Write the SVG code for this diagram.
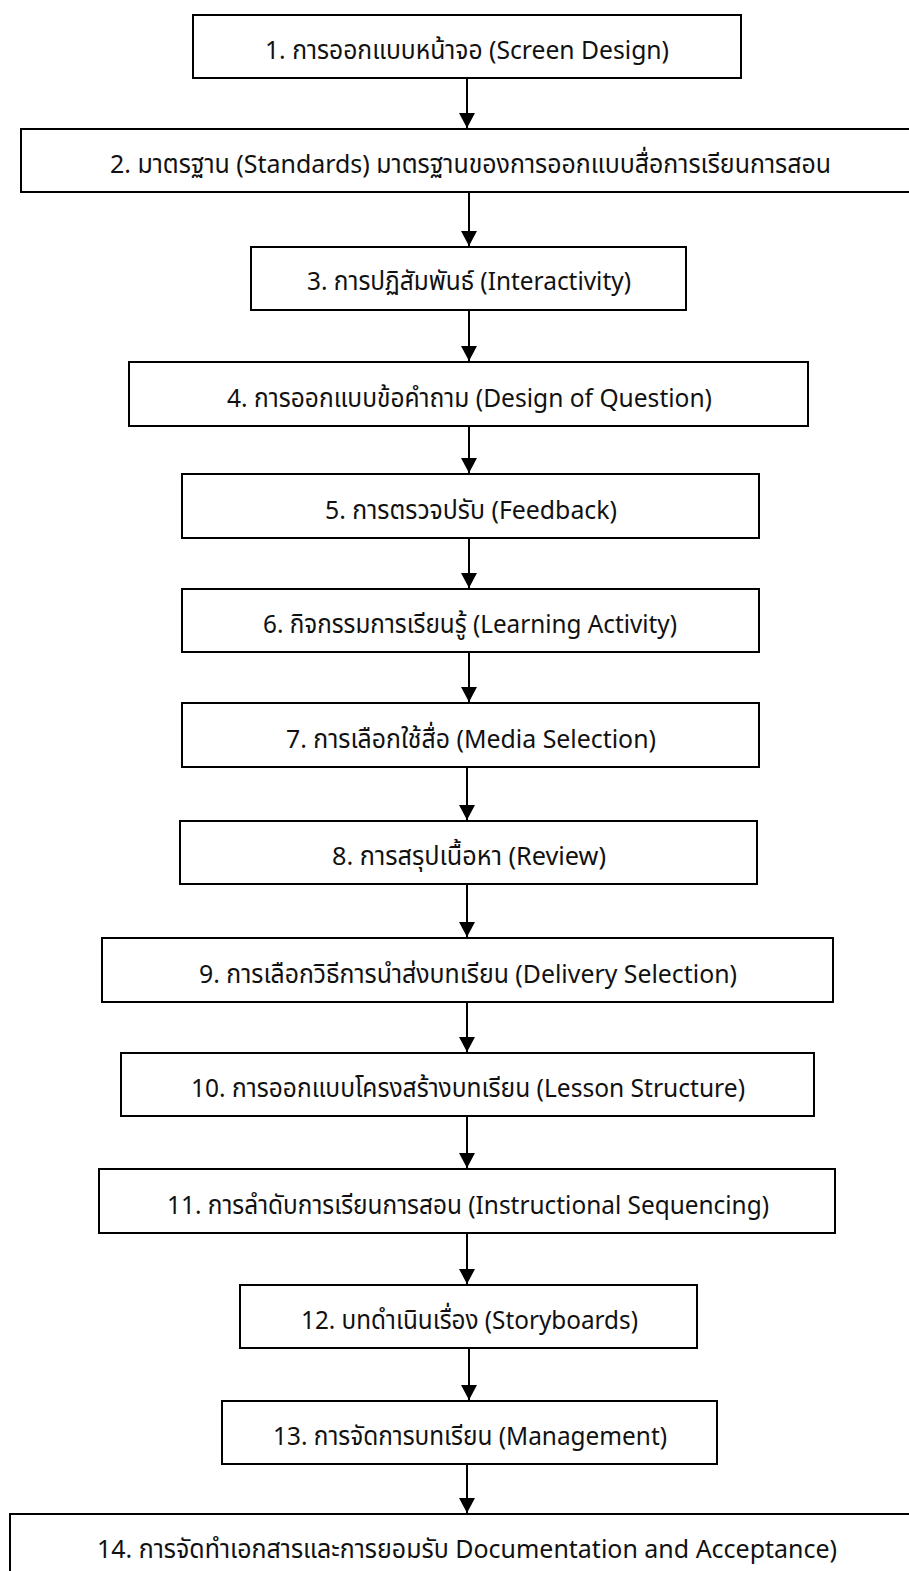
<svg xmlns="http://www.w3.org/2000/svg" width="909" height="1571" viewBox="0 0 909 1571">
  <style>
    .box rect { fill: #ffffff; stroke: #000000; stroke-width: 2; }
    .box text { font-family: "Noto Sans Thai", "Leelawadee UI", "Noto Sans", "DejaVu Sans", sans-serif; font-size: 26px; fill: #111111; }
    .link { stroke: #000000; stroke-width: 2; fill: none; marker-end: url(#head); }
  </style>
  <defs>
    <marker id="head" viewBox="0 0 15 16" refX="15" refY="8" markerWidth="15" markerHeight="16" markerUnits="userSpaceOnUse" orient="auto">
      <path d="M0,0 L15,8 L0,16 z" fill="#000000"/>
    </marker>
  </defs>
  <rect width="909" height="1571" fill="#ffffff"/>

  <!-- connectors -->
  <g id="connectors">
    <line class="link" x1="467" y1="78" x2="467" y2="128"/>
    <line class="link" x1="469" y1="192" x2="469" y2="246"/>
    <line class="link" x1="469" y1="310" x2="469" y2="361"/>
    <line class="link" x1="469" y1="426" x2="469" y2="473"/>
    <line class="link" x1="469" y1="538" x2="469" y2="588"/>
    <line class="link" x1="469" y1="652" x2="469" y2="702"/>
    <line class="link" x1="467" y1="767" x2="467" y2="820"/>
    <line class="link" x1="467" y1="884" x2="467" y2="937"/>
    <line class="link" x1="467" y1="1002" x2="467" y2="1052"/>
    <line class="link" x1="467" y1="1116" x2="467" y2="1168"/>
    <line class="link" x1="467" y1="1233" x2="467" y2="1284"/>
    <line class="link" x1="469" y1="1348" x2="469" y2="1400"/>
    <line class="link" x1="467" y1="1464" x2="467" y2="1513"/>
  </g>

  <!-- steps -->
  <g id="step1" class="box">
    <rect x="193" y="15" width="548" height="63"/>
    <text x="265" y="59" textLength="404" lengthAdjust="spacingAndGlyphs">1. การออกแบบหน้าจอ (Screen Design)</text>
  </g>
  <g id="step2" class="box">
    <rect x="21" y="129" width="900" height="63"/>
    <text x="110" y="173" textLength="721" lengthAdjust="spacingAndGlyphs">2. มาตรฐาน (Standards) มาตรฐานของการออกแบบสื่อการเรียนการสอน</text>
  </g>
  <g id="step3" class="box">
    <rect x="251" y="247" width="435" height="63"/>
    <text x="307" y="290" textLength="324" lengthAdjust="spacingAndGlyphs">3. การปฏิสัมพันธ์ (Interactivity)</text>
  </g>
  <g id="step4" class="box">
    <rect x="129" y="362" width="679" height="64"/>
    <text x="227" y="407" textLength="485" lengthAdjust="spacingAndGlyphs">4. การออกแบบข้อคำถาม (Design of Question)</text>
  </g>
  <g id="step5" class="box">
    <rect x="182" y="474" width="577" height="64"/>
    <text x="325" y="519" textLength="292" lengthAdjust="spacingAndGlyphs">5. การตรวจปรับ (Feedback)</text>
  </g>
  <g id="step6" class="box">
    <rect x="182" y="589" width="577" height="63"/>
    <text x="263" y="633" textLength="414" lengthAdjust="spacingAndGlyphs">6. กิจกรรมการเรียนรู้ (Learning Activity)</text>
  </g>
  <g id="step7" class="box">
    <rect x="182" y="703" width="577" height="64"/>
    <text x="286" y="748" textLength="370" lengthAdjust="spacingAndGlyphs">7. การเลือกใช้สื่อ (Media Selection)</text>
  </g>
  <g id="step8" class="box">
    <rect x="180" y="821" width="577" height="63"/>
    <text x="332" y="865" textLength="274" lengthAdjust="spacingAndGlyphs">8. การสรุปเนื้อหา (Review)</text>
  </g>
  <g id="step9" class="box">
    <rect x="102" y="938" width="731" height="64"/>
    <text x="199" y="983" textLength="538" lengthAdjust="spacingAndGlyphs">9. การเลือกวิธีการนำส่งบทเรียน (Delivery Selection)</text>
  </g>
  <g id="step10" class="box">
    <rect x="121" y="1053" width="693" height="63"/>
    <text x="191" y="1097" textLength="554" lengthAdjust="spacingAndGlyphs">10. การออกแบบโครงสร้างบทเรียน (Lesson Structure)</text>
  </g>
  <g id="step11" class="box">
    <rect x="99" y="1169" width="736" height="64"/>
    <text x="167" y="1214" textLength="602" lengthAdjust="spacingAndGlyphs">11. การลำดับการเรียนการสอน (Instructional Sequencing)</text>
  </g>
  <g id="step12" class="box">
    <rect x="240" y="1285" width="457" height="63"/>
    <text x="301" y="1329" textLength="337" lengthAdjust="spacingAndGlyphs">12. บทดำเนินเรื่อง (Storyboards)</text>
  </g>
  <g id="step13" class="box">
    <rect x="222" y="1401" width="495" height="63"/>
    <text x="273" y="1445" textLength="394" lengthAdjust="spacingAndGlyphs">13. การจัดการบทเรียน (Management)</text>
  </g>
  <g id="step14" class="box">
    <rect x="10" y="1514" width="910" height="70"/>
    <text x="97" y="1558" textLength="740" lengthAdjust="spacingAndGlyphs">14. การจัดทำเอกสารและการยอมรับ Documentation and Acceptance)</text>
  </g>
</svg>
